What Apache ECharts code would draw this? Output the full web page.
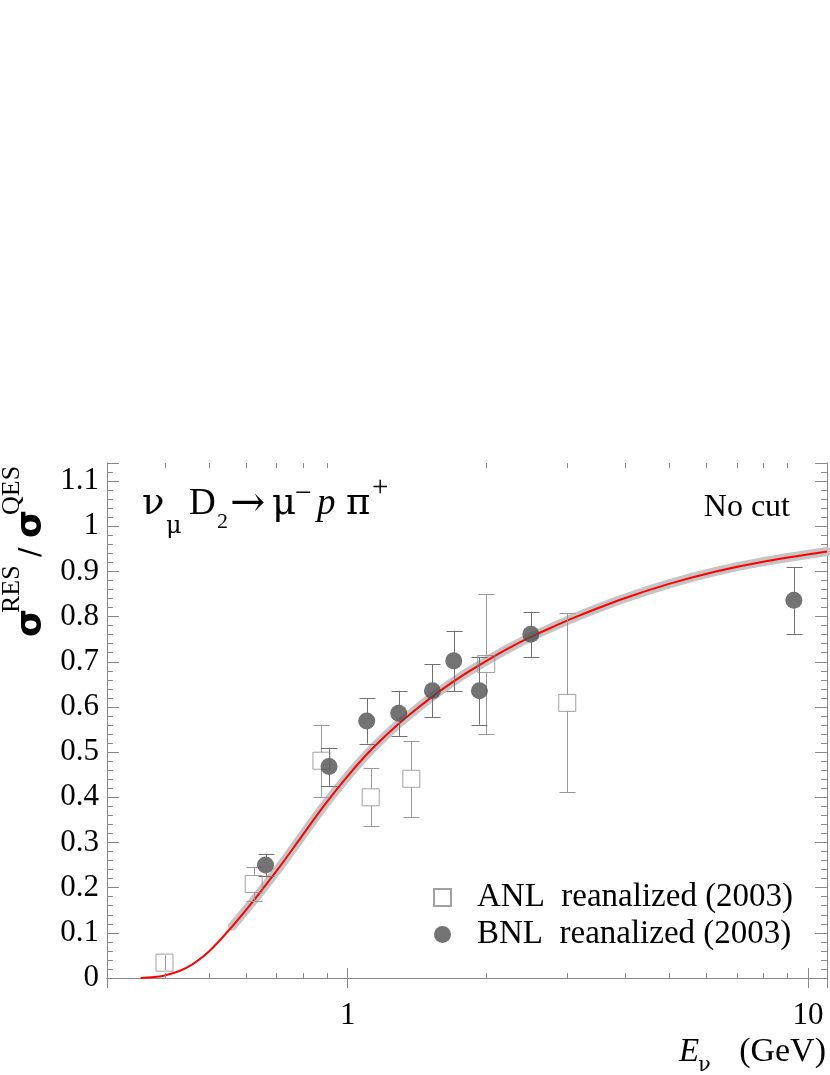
<!DOCTYPE html>
<html><head><meta charset="utf-8">
<script src="https://cdn.jsdelivr.net/npm/echarts@6/dist/echarts.min.js"></script>
<style>html,body{margin:0;padding:0;background:#fff}#c{width:830px;height:1075px}</style>
</head><body><div id="c"></div>
<script>
// ---- data ----
const curveE = [0.355, 0.398, 0.447, 0.501, 0.562, 0.631, 0.708, 0.794, 0.891, 1.0, 1.122, 1.259, 1.413, 1.585, 1.778, 1.995, 2.239, 2.512, 2.818, 3.162, 3.981, 5.012, 6.310, 7.943, 11.0];
const curveR = [0, 0.005, 0.023, 0.060, 0.115, 0.177, 0.243, 0.313, 0.383, 0.447, 0.504, 0.553, 0.596, 0.635, 0.670, 0.701, 0.730, 0.756, 0.779, 0.801, 0.840, 0.873, 0.900, 0.921, 0.944];

const anlE   = [0.40, 0.625, 0.877, 1.122, 1.375, 2.00, 3.00];
const anlR   = [0.034, 0.208, 0.481, 0.400, 0.441, 0.695, 0.609];
const anlErr = [0.016, 0.037, 0.080, 0.064, 0.084, 0.155, 0.198];

const bnlE   = [0.663, 0.911, 1.10, 1.291, 1.528, 1.70, 1.933, 2.50, 9.32];
const bnlR   = [0.250, 0.468, 0.569, 0.586, 0.636, 0.702, 0.636, 0.761, 0.836];
const bnlErr = [0.024, 0.042, 0.050, 0.050, 0.059, 0.067, 0.075, 0.050, 0.074];

const xMajorLabels = [1, 10];
const xMinorTicks = [0.4, 0.5, 0.6, 0.7, 0.8, 0.9, 2, 3, 4, 5, 6, 7, 8, 9];

const seriesNames = ['ANL  reanalized (2003)', 'BNL  reanalized (2003)'];

// ---- chart ----
const SERIF = '"Liberation Serif", "Times New Roman", serif';
const GREEK = '"DejaVu Serif", serif';
const SANS = '"DejaVu Sans", sans-serif';
const FRAME = '#888888';
const X_MIN = 0.3, X_MAX = 11, Y_MIN = 0, Y_MAX = 1.14;
const BAND_FROM = 0.56;

function fontStr(fs, opt) {
  return (opt.style || 'normal') + ' ' + (opt.weight || 'normal') + ' ' + fs + 'px ' + (opt.family || SERIF);
}
// horizontal text, positioned by baseline
function ht(text, x, base, fs, opt) {
  opt = opt || {};
  return {
    type: 'text', x: x, y: base - 0.3 * fs, silent: true,
    style: { text: text, align: opt.align || 'left', verticalAlign: 'middle', font: fontStr(fs, opt), fill: '#000' }
  };
}
// horizontal text, positioned by vertical centre
function hc(text, x, center, fs, opt) {
  opt = opt || {};
  return {
    type: 'text', x: x, y: center, silent: true,
    style: { text: text, align: opt.align || 'left', verticalAlign: 'middle', font: fontStr(fs, opt), fill: '#000' }
  };
}
// rotated (bottom-to-top) text
function rt(text, xBase, yStart, fs, opt) {
  opt = opt || {};
  return {
    type: 'text', x: xBase - 0.3 * fs, y: yStart, rotation: Math.PI / 2, silent: true,
    style: { text: text, align: 'left', verticalAlign: 'middle', font: fontStr(fs, opt), fill: '#000' }
  };
}

function errRender(half, color) {
  return function (params, api) {
    const x = api.value(0), y = api.value(1), e = api.value(2);
    const c = api.coord([x, y]), hi = api.coord([x, y + e]), lo = api.coord([x, y - e]);
    const cx = Math.round(c[0]) + 0.5;
    const st = { stroke: color, lineWidth: 1 };
    const ch = [];
    if (c[1] - hi[1] <= half) {
      ch.push({ type: 'line', shape: { x1: cx, y1: hi[1], x2: cx, y2: lo[1] }, style: st });
    } else {
      ch.push({ type: 'line', shape: { x1: cx, y1: hi[1], x2: cx, y2: c[1] - half }, style: st });
      ch.push({ type: 'line', shape: { x1: cx, y1: c[1] + half, x2: cx, y2: lo[1] }, style: st });
      const yh = Math.round(hi[1]) + 0.5, yl = Math.round(lo[1]) + 0.5;
      ch.push({ type: 'line', shape: { x1: cx - 8, y1: yh, x2: cx + 8, y2: yh }, style: st });
      ch.push({ type: 'line', shape: { x1: cx - 8, y1: yl, x2: cx + 8, y2: yl }, style: st });
    }
    return { type: 'group', children: ch };
  };
}

function minorTickRender(params, api) {
  const x = api.value(0);
  const pb = api.coord([x, Y_MIN]), pt = api.coord([x, Y_MAX]);
  const cx = Math.round(pb[0]) + 0.5;
  const st = { stroke: FRAME, lineWidth: 1 };
  return {
    type: 'group', children: [
      { type: 'line', shape: { x1: cx, y1: pb[1], x2: cx, y2: pb[1] - 5 }, style: st },
      { type: 'line', shape: { x1: cx, y1: pt[1], x2: cx, y2: pt[1] + 5 }, style: st }
    ]
  };
}

const curveData = curveE.map((e, i) => [e, curveR[i]]);
const bandData = curveData.filter(d => d[0] >= BAND_FROM);
const anlData = anlE.map((e, i) => [e, anlR[i], anlErr[i]]);
const bnlData = bnlE.map((e, i) => [e, bnlR[i], bnlErr[i]]);

function xAxisCfg(pos, showLabel) {
  return {
    type: 'log', logBase: 10, min: X_MIN, max: X_MAX, position: pos, gridIndex: 0,
    axisLine: { show: true, lineStyle: { color: FRAME, width: 1 } },
    axisTick: { show: true, inside: true, length: 10, lineStyle: { color: FRAME } },
    minorTick: { show: false },
    splitLine: { show: false },
    axisLabel: {
      show: showLabel, margin: 22, color: '#000', fontSize: 31, fontFamily: SERIF,
      showMinLabel: false, showMaxLabel: false,
      formatter: function (v) {
        for (const m of xMajorLabels) { if (Math.abs(v - m) / m < 1e-6) return String(m); }
        return '';
      }
    }
  };
}
function yAxisCfg(pos, showLabel) {
  return {
    type: 'value', min: Y_MIN, max: Y_MAX, interval: 0.1, position: pos, gridIndex: 0,
    axisLine: { show: true, lineStyle: { color: FRAME, width: 1 } },
    axisTick: { show: true, inside: true, length: 12, lineStyle: { color: FRAME } },
    minorTick: { show: true, splitNumber: 5, length: 6, lineStyle: { color: FRAME } },
    splitLine: { show: false },
    axisLabel: {
      show: showLabel, margin: 8, color: '#000', fontSize: 31, fontFamily: SERIF,
      showMaxLabel: false
    }
  };
}

const option = {
  animation: false,
  backgroundColor: '#ffffff',
  grid: { left: 107, right: 3, top: 463, bottom: 97, containLabel: false, outerBoundsMode: 'none' },
  xAxis: [xAxisCfg('bottom', true), xAxisCfg('top', false)],
  yAxis: [yAxisCfg('left', true), yAxisCfg('right', false)],
  legend: {
    show: true, orient: 'vertical', left: 433, top: 881, itemGap: 4, padding: 0,
    itemWidth: 17, itemHeight: 17, selectedMode: false,
    data: seriesNames,
    textStyle: { fontSize: 33, lineHeight: 33, fontFamily: SERIF, color: '#000', padding: [0, 0, 0, 21] }
  },
  series: [
    { type: 'line', name: 'band', data: bandData, xAxisIndex: 0, yAxisIndex: 0, showSymbol: false, symbol: 'none',
      smooth: 0.3, lineStyle: { color: '#c4c4c4', width: 9, cap: 'round' }, z: 1, silent: true },
    { type: 'line', name: 'model', data: curveData, xAxisIndex: 0, yAxisIndex: 0, showSymbol: false, symbol: 'none',
      smooth: 0.3, lineStyle: { color: '#ff0000', width: 2 }, z: 2, silent: true },
    { type: 'custom', name: 'anlErr', data: anlData, encode: { x: 0, y: 1 }, renderItem: errRender(8.5, '#999999'), z: 3, silent: true },
    { type: 'custom', name: 'bnlErr', data: bnlData, encode: { x: 0, y: 1 }, renderItem: errRender(8, '#707070'), z: 3, silent: true },
    { type: 'scatter', name: seriesNames[0], data: anlData.map(d => [d[0], d[1]]), symbol: 'rect', symbolSize: 17,
      itemStyle: { color: 'rgba(255,255,255,0)', borderColor: '#8a8a8a', borderWidth: 1 }, z: 4, silent: true },
    { type: 'scatter', name: seriesNames[1], data: bnlData.map(d => [d[0], d[1]]), symbol: 'circle', symbolSize: 17,
      itemStyle: { color: '#505050' }, z: 4, silent: true },
    { type: 'custom', name: 'minorTicks', data: xMinorTicks.map(v => [v, 0]), encode: { x: 0, y: 1 }, renderItem: minorTickRender, z: 5, silent: true }
  ],
  graphic: [
    // reaction title
    ht('ν', 142, 515, 37, { family: GREEK }),
    ht('μ', 166, 534, 24, { family: GREEK }),
    ht('D', 189, 515, 37),
    ht('2', 217, 529, 22),
    hc('→', 230, 505, 42, { family: GREEK }),
    ht('μ', 272, 515, 37, { family: GREEK }),
    hc('−', 295, 494, 30),
    ht('p', 317, 515, 37, { style: 'italic' }),
    ht('π', 346, 515, 37, { family: GREEK }),
    hc('+', 372, 488, 29),
    // cut label
    ht('No cut', 790, 517, 32, { align: 'right' }),
    // x axis title
    ht('E', 679, 1062, 33, { style: 'italic' }),
    ht('ν', 698, 1072, 21, { family: GREEK }),
    ht('(GeV)', 826, 1062, 34, { align: 'right' }),
    // y axis title
    rt('σ', 42, 637, 36, { family: SANS, weight: 'bold' }),
    rt('RES', 20, 613, 26),
    rt('/', 40, 557, 28, { family: SANS }),
    rt('σ', 42, 538, 36, { family: SANS, weight: 'bold' }),
    rt('QES', 20, 515, 26)
  ]
};

const chart = echarts.init(document.getElementById('c'), null, { renderer: 'canvas' });
chart.setOption(option);
</script>
</body></html>
